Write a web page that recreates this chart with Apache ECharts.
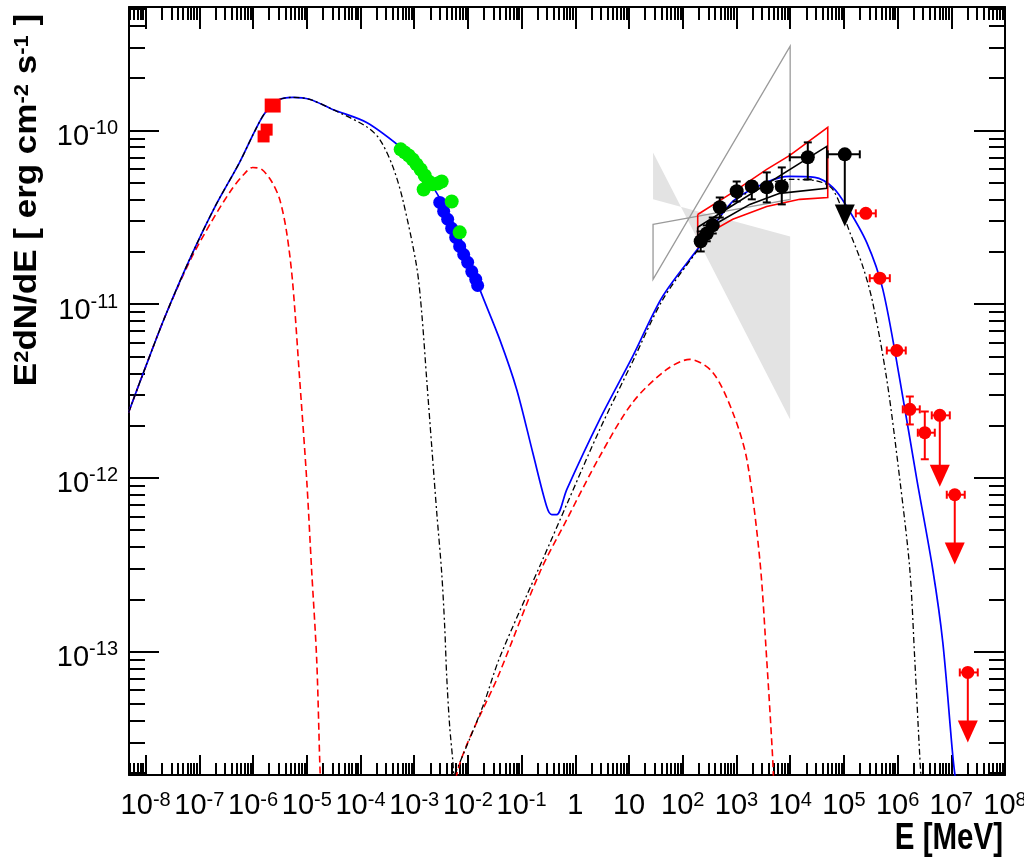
<!DOCTYPE html>
<html>
<head>
<meta charset="utf-8">
<script src="https://cdn.jsdelivr.net/npm/echarts/dist/echarts.min.js"></script>
<style>html,body{margin:0;padding:0;background:#fff}#chart{width:1024px;height:862px}</style>
</head>
<body>
<div id="chart"></div>
<script>
// ===================== DATA (E in MeV, E^2 dN/dE in erg cm^-2 s^-1) =====================
// total model (blue solid)
const totalModel = [[4.8e-9,2.38e-12],[9.58e-9,4.21e-12],[2.26e-8,8.38e-12],[6.59e-8,1.81e-11],[1.93e-7,3.61e-11],[5.62e-7,6.55e-11],[1.07e-6,9.87e-11],[1.64e-6,1.25e-10],[2.87e-6,1.49e-10],[5.46e-6,1.55e-10],[1.13e-5,1.51e-10],[3.03e-5,1.32e-10],[1.30e-4,1.11e-10],[5.37e-4,8.09e-11],[1.11e-3,6.55e-11],[2.21e-3,4.76e-11],[4.59e-3,3.2e-11],[9.5e-3,1.99e-11],[1.66e-2,1.22e-11],[3.91e-2,6.27e-12],[8.1e-2,3.23e-12],[0.161,1.40e-12],[0.293,6.84e-13],[0.364,6.15e-13],[0.451,6.15e-13],[0.692,8.57e-13],[2.85,2.17e-12],[11.7,5.0e-12],[42.4,1.11e-11],[207,2.15e-11],[854,3.9e-11],[3.66e3,5.02e-11],[9.8e3,5.43e-11],[2.87e4,5.36e-11],[6.21e4,4.7e-11],[1.13e5,3.65e-11],[2.67e5,2.26e-11],[5.3e5,1.22e-11],[1.1e6,3.68e-12],[2.28e6,9.8e-13],[4.52e6,2.97e-13],[6.95e6,1.13e-13],[1.07e7,2.49e-14],[1.26e7,1.62e-14]];
// synchrotron component (black dash-dot)
const synModel = [[4.8e-9,2.38e-12],[9.58e-9,4.21e-12],[2.26e-8,8.38e-12],[6.59e-8,1.81e-11],[1.93e-7,3.61e-11],[5.62e-7,6.55e-11],[1.07e-6,9.87e-11],[1.64e-6,1.25e-10],[2.87e-6,1.49e-10],[5.46e-6,1.55e-10],[1.13e-5,1.51e-10],[3.03e-5,1.32e-10],[1.30e-4,1.05e-10],[2.28e-4,8.88e-11],[3.98e-4,6.21e-11],[6.11e-4,4.01e-11],[1.11e-3,1.65e-11],[1.38e-3,8.95e-12],[1.71e-3,3.68e-12],[2.12e-3,1.52e-12],[2.63e-3,6.32e-13],[3.25e-3,2.85e-13],[3.70e-3,1.39e-13],[4.03e-3,7.2e-14],[4.58e-3,3.71e-14],[5.21e-3,2.39e-14],[5.68e-3,1.6e-14]];
// inverse Compton component (black dash-dot)
const icModel = [[5.68e-3,1.96e-14],[1.89e-2,4.83e-14],[3.91e-2,9.25e-14],[0.247,3.39e-13],[0.692,7.03e-13],[2.85,1.9e-12],[11.7,4.68e-12],[42.4,1.06e-11],[207,2.12e-11],[854,3.85e-11],[3.66e3,4.89e-11],[9.8e3,5.22e-11],[2.87e4,5.15e-11],[6.21e4,4.57e-11],[1.29e5,2.59e-11],[2.25e5,1.65e-11],[3.45e5,1.02e-11],[6.3e5,3.68e-12],[1.1e6,9.8e-13],[1.69e6,2.97e-13],[2.09e6,9.0e-14],[2.59e6,2.49e-14],[2.82e6,1.6e-14]];
// second-population components (red dashed)
const redLowModel = [[4.82e-9,2.38e-12],[9.58e-9,4.21e-12],[2.26e-8,8.38e-12],[6.59e-8,1.76e-11],[1.69e-7,2.99e-11],[3.99e-7,4.57e-11],[6.98e-7,5.65e-11],[9.8e-7,6.12e-11],[1.45e-6,5.96e-11],[2.22e-6,5.08e-11],[3.13e-6,4.01e-11],[4.22e-6,2.59e-11],[5.46e-6,1.33e-11],[7.38e-6,3.68e-12],[9.96e-6,9.8e-13],[1.23e-5,2.97e-13],[1.53e-5,9.0e-14],[1.74e-5,2.39e-14],[1.82e-5,1.6e-14]];
const redHighModel = [[5.93e-3,1.6e-14],[6.19e-3,1.96e-14],[3.91e-2,7.59e-14],[0.217,2.85e-13],[0.692,5.75e-13],[2.85,1.33e-12],[11.7,2.72e-12],[50.4,4.21e-12],[135,4.81e-12],[362,4.05e-12],[854,2.38e-12],[1.56e3,1.28e-12],[2.72e3,3.39e-13],[3.66e3,9.0e-14],[4.74e3,2.39e-14],[4.95e3,1.6e-14]];
// data points
const radioPts = [[2.32e-6,1.39e-10],[1.79e-6,1.01e-10],[1.57e-6,9.23e-11]];
const xrayBluePts = [[2.99e-3,3.85e-11],[3.54e-3,3.42e-11],[4.2e-3,3.08e-11],[4.99e-3,2.73e-11],[5.93e-3,2.42e-11],[7.03e-3,2.15e-11],[8.35e-3,1.93e-11],[9.9e-3,1.74e-11],[1.18e-2,1.54e-11],[1.40e-2,1.39e-11],[1.52e-2,1.28e-11]];
const xrayGreenPts = [[5.61e-4,7.78e-11],[6.65e-4,7.47e-11],[7.9e-4,7.17e-11],[9.38e-4,6.8e-11],[1.11e-3,6.37e-11],[1.32e-3,5.96e-11],[1.57e-3,5.5e-11],[1.5e-3,4.57e-11],[1.86e-3,5.08e-11],[2.21e-3,4.89e-11],[2.74e-3,4.95e-11],[3.25e-3,5.08e-11],[4.99e-3,3.9e-11],[7.03e-3,2.59e-11]];
// [E, F, Elow, Ehigh, Flow, Fhigh]
const latPts = [[216,2.30e-11,null,null,2.01e-11,2.62e-11],[280,2.55e-11,null,null,2.30e-11,2.84e-11],[362,2.84e-11,null,null,2.55e-11,3.15e-11],[489,3.61e-11,420,570,3.15e-11,4.11e-11],[1010,4.46e-11,820,1250,3.9e-11,5.08e-11],[1930,4.76e-11,1550,2400,4.01e-11,5.08e-11],[3670,4.70e-11,2950,4550,3.85e-11,5.73e-11],[6980,4.76e-11,5600,8700,3.75e-11,6.12e-11],[21300,7.0e-11,9840,25500,5.22e-11,8.53e-11],[104000,7.28e-11,50000,198000,null,null]];
const latUL = [[104000,7.28e-11,2.8e-11]]; // [E, F, arrow tip]
const hessPts = [[2.56e5,3.33e-11,1.67e5,3.93e5,null,null],[4.67e5,1.41e-11,3.03e5,7.17e5,null,null],[9.66e5,5.41e-12,6.3e5,1.42e6,null,null],[1.69e6,2.48e-12,1.25e6,2.59e6,2.03e-12,2.94e-12],[3.21e6,1.82e-12,2.38e6,4.93e6,1.28e-12,2.41e-12],[6.11e6,2.29e-12,4.33e6,9.38e6,null,null],[1.16e7,8.0e-13,8.24e6,1.78e7,null,null],[2.03e7,7.59e-14,1.44e7,3.11e7,null,null]];
const hessUL = [[6.11e6,2.29e-12,8.9e-13],[1.16e7,8.0e-13,3.17e-13],[2.03e7,7.59e-14,3.0e-14]];
// butterflies / bowties
const egretFill = [[28,7.47e-11],[1e4,2.17e-12],[1e4,2.45e-11],[28,4.01e-11]];
const egretOutline = [[28,2.88e-11],[1e4,4.01e-11],[1e4,3.05e-10],[28,1.39e-11]];
const redBflyUpper = [[190,3.28e-11],[854,4.4e-11],[3.66e3,5.96e-11],[9.84e3,7.18e-11],[5.01e4,1.04e-10]];
const redBflyLower = [[190,2.15e-11],[318,2.59e-11],[854,3.08e-11],[3.66e3,3.65e-11],[1.51e4,4.01e-11],[5.01e4,4.11e-11]];
const blkBflyUpper = [[190,2.77e-11],[4.8e4,8.09e-11]];
const blkBflyLower = [[190,2.49e-11],[489,2.99e-11],[1.77e3,3.75e-11],[6.4e3,4.34e-11],[4.8e4,4.64e-11]];
// axis range & ticks
const xRange = [4.9e-9, 1e8];
const yRange = [1.95e-14, 5.13e-10];
const xMajorExp = [-8,-7,-6,-5,-4,-3,-2,-1,0,1,2,3,4,5,6,7,8];
const yMajorExp = [-13,-12,-11,-10];

// ===================== CHART =====================
const L = v => Math.log10(v);
const X_MIN = L(xRange[0]), X_MAX = L(xRange[1]), Y_MIN = L(yRange[0]), Y_MAX = L(yRange[1]);
function minorTicks(lo, hi) {
  const out = [];
  for (let n = Math.floor(lo) - 1; n <= Math.ceil(hi); n++)
    for (let k = 2; k < 10; k++) { const v = n + Math.log10(k); if (v > lo && v < hi) out.push(v); }
  return out;
}
const xMinor = minorTicks(X_MIN, X_MAX), yMinor = minorTicks(Y_MIN, Y_MAX);
const FF = "'Liberation Sans',Arial,Helvetica,sans-serif";
function powLabel(v) {
  const n = Math.round(v);
  if (n === 0) return '{b|1}';
  if (n === 1) return '{b|10}';
  return '{b|10}{s|' + n + '}';
}
const richX = {
  b: {fontFamily: FF, fontSize: 29, lineHeight: 31, color: '#000'},
  s: {fontFamily: FF, fontSize: 20, lineHeight: 14, verticalAlign: 'top', color: '#000'}
};
const richY = {
  b: {fontFamily: FF, fontSize: 29, lineHeight: 37, color: '#000'},
  s: {fontFamily: FF, fontSize: 20, lineHeight: 14, verticalAlign: 'top', color: '#000'}
};
function axisPair(dim, pos, majors, minors, majLen, minLen, labels) {
  const range = dim === 'x' ? [X_MIN, X_MAX] : [Y_MIN, Y_MAX];
  const base = {type: 'value', min: range[0], max: range[1], position: pos, splitLine: {show: false}, scale: true};
  return [
    Object.assign({}, base, {
      axisLine: {show: true, onZero: false, lineStyle: {color: '#000', width: 2}},
      axisTick: {show: true, inside: true, length: majLen, customValues: majors, lineStyle: {color: '#000', width: 2}},
      axisLabel: labels ? Object.assign({show: true, customValues: majors, formatter: powLabel, showMinLabel: true, showMaxLabel: true, hideOverlap: false}, labels) : {show: false}
    }),
    Object.assign({}, base, {
      axisLine: {show: false, onZero: false},
      axisTick: {show: true, inside: true, length: minLen, customValues: minors, lineStyle: {color: '#000', width: 2}},
      axisLabel: {show: false}
    })
  ];
}
const logPts = arr => arr.map(p => [L(p[0]), L(p[1])]);
function curve(model, color, type, width, z) {
  return {type: 'line', data: logPts(model), showSymbol: false, symbol: 'none', smooth: 0.3, silent: true, z: z,
    lineStyle: {color: color, width: width, type: type}};
}
function shapeSeries(builder, z) {
  return {type: 'custom', silent: true, z: z, data: [[0, 0]], renderItem: (params, api) => builder(api)};
}
const toPx = (api, arr) => arr.map(p => api.coord([L(p[0]), L(p[1])]));
function errorBars(pts, color, z) {
  return {type: 'custom', silent: true, z: z, data: pts.map((p, i) => [L(p[0]), L(p[1]), i]),
    renderItem: (params, api) => {
      const p = pts[params.dataIndex];
      const st = {stroke: color, lineWidth: 2};
      const kids = [];
      const ln = (x1, y1, x2, y2) => kids.push({type: 'line', shape: {x1, y1, x2, y2}, style: st});
      if (p[2] != null) {
        const a = api.coord([L(p[2]), L(p[1])]), b = api.coord([L(p[3]), L(p[1])]);
        ln(a[0], a[1], b[0], b[1]); ln(a[0], a[1] - 4, a[0], a[1] + 4); ln(b[0], b[1] - 4, b[0], b[1] + 4);
      }
      if (p[4] != null) {
        const a = api.coord([L(p[0]), L(p[4])]), b = api.coord([L(p[0]), L(p[5])]);
        ln(a[0], a[1], b[0], b[1]); ln(a[0] - 4, a[1], a[0] + 4, a[1]); ln(b[0] - 4, b[1], b[0] + 4, b[1]);
      }
      return {type: 'group', children: kids};
    }};
}
function upperLimits(uls, color, z) {
  return {type: 'custom', silent: true, z: z, data: uls.map((p, i) => [L(p[0]), L(p[1]), i]),
    renderItem: (params, api) => {
      const p = uls[params.dataIndex];
      const c = api.coord([L(p[0]), L(p[1])]), t = api.coord([L(p[0]), L(p[2])]);
      return {type: 'group', children: [
        {type: 'line', shape: {x1: c[0], y1: c[1], x2: t[0], y2: t[1] - 18}, style: {stroke: color, lineWidth: 2}},
        {type: 'polygon', shape: {points: [[t[0] - 10, t[1] - 22], [t[0] + 10, t[1] - 22], [t[0], t[1]]]}, style: {fill: color}}
      ]};
    }};
}
function scatter(pts, color, symbol, size, z) {
  return {type: 'scatter', data: logPts(pts), symbol: symbol, symbolSize: size, silent: true, z: z,
    itemStyle: {color: color, opacity: 1}};
}

const option = {
  animation: false,
  backgroundColor: '#fff',
  grid: {left: 129, right: 19, top: 7, bottom: 87, containLabel: false, outerBoundsMode: 'none'},
  xAxis: [
    ...axisPair('x', 'bottom', xMajorExp, xMinor, 20, 12, {margin: 15, rich: richX}),
    ...axisPair('x', 'top', xMajorExp, xMinor, 22, 13, null)
  ],
  yAxis: [
    ...axisPair('y', 'left', yMajorExp, yMinor, 30, 16, {margin: 11, padding: [13, 0, 0, 0], rich: richY}),
    ...axisPair('y', 'right', yMajorExp, yMinor, 31, 16, null)
  ],
  graphic: [
    {type: 'text', x: 28, y: 200, rotation: Math.PI / 2, scaleY: 0.88, silent: true,
      style: {text: '{b|E}{s|2}{b|dN/dE [ erg cm}{s|-2}{b| s}{s|-1}{b| ]}', align: 'center', verticalAlign: 'middle',
        rich: {b: {fontFamily: FF, fontWeight: 'bold', fontSize: 35, lineHeight: 34, fill: '#000'},
               s: {fontFamily: FF, fontWeight: 'bold', fontSize: 22, lineHeight: 16, verticalAlign: 'top', fill: '#000'}}}},
    {type: 'text', x: 1003, y: 821, scaleX: 0.82, silent: true,
      style: {text: 'E [MeV]', align: 'right', verticalAlign: 'top', fontFamily: FF, fontWeight: 'bold', fontSize: 36, fill: '#000'}}
  ],
  series: [
    shapeSeries(api => ({type: 'polygon', shape: {points: toPx(api, egretFill)}, style: {fill: '#e3e3e3', stroke: null}}), 1),
    shapeSeries(api => ({type: 'polygon', shape: {points: toPx(api, egretOutline)}, style: {fill: 'none', stroke: '#9a9a9a', lineWidth: 1.3}}), 2),
    curve(redLowModel, '#ff0000', [7, 4], 1.6, 3),
    curve(redHighModel, '#ff0000', [7, 4], 1.6, 3),
    curve(totalModel, '#0000ff', 'solid', 1.7, 3),
    curve(synModel, '#000000', [6, 3, 2, 3], 1.3, 4),
    curve(icModel, '#000000', [6, 3, 2, 3], 1.3, 4),
    shapeSeries(api => ({type: 'polyline', shape: {points: toPx(api, redBflyUpper.concat(redBflyLower.slice().reverse(), [redBflyUpper[0]]))}, style: {fill: 'none', stroke: '#ff0000', lineWidth: 1.6}}), 5),
    shapeSeries(api => ({type: 'polyline', shape: {points: toPx(api, blkBflyUpper.concat(blkBflyLower.slice().reverse(), [blkBflyUpper[0]]))}, style: {fill: 'none', stroke: '#000000', lineWidth: 1.6}}), 5),
    scatter(radioPts.slice(0, 1), '#ff0000', 'rect', [16, 14], 6),
    scatter(radioPts.slice(1), '#ff0000', 'rect', 12, 6),
    scatter(xrayBluePts, '#0000ff', 'circle', 13, 6),
    scatter(xrayGreenPts, '#00ee00', 'circle', 14, 7),
    errorBars(latPts, '#000000', 8),
    upperLimits(latUL, '#000000', 8),
    scatter(latPts, '#000000', 'circle', 14, 9),
    errorBars(hessPts, '#ff0000', 8),
    upperLimits(hessUL, '#ff0000', 8),
    scatter(hessPts, '#ff0000', 'circle', 13, 9)
  ]
};
const chart = echarts.init(document.getElementById('chart'), null, {renderer: 'canvas'});
chart.setOption(option);
</script>
</body>
</html>
